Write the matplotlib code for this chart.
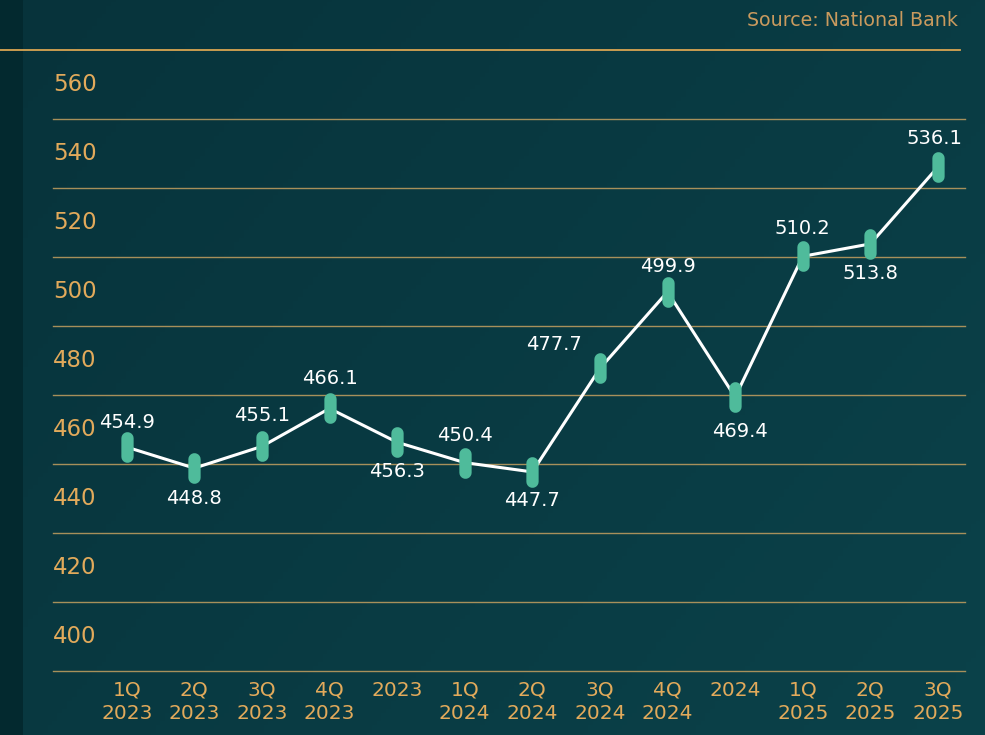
import numpy as np
import matplotlib.pyplot as plt
from matplotlib.path import Path
from matplotlib.patches import FancyBboxPatch
from matplotlib.colors import LinearSegmentedColormap

# data
quarters = ['1Q\n2023', '2Q\n2023', '3Q\n2023', '4Q\n2023', '2023\n',
            '1Q\n2024', '2Q\n2024', '3Q\n2024', '4Q\n2024', '2024\n',
            '1Q\n2025', '2Q\n2025', '3Q\n2025']
values = [454.9, 448.8, 455.1, 466.1, 456.3, 450.4, 447.7,
          477.7, 499.9, 469.4, 510.2, 513.8, 536.1]
y_labels = [400, 420, 440, 460, 480, 500, 520, 540, 560]
source = 'Source: National Bank'

# where each value label sits relative to its point (pixels)
label_offsets = [(0, 25), (0, -30), (0, 31), (0, 30), (0, -29), (0, 27), (0, -29),
                 (-46, 24), (0, 25), (5, -34), (0, 28), (0, -30), (-4, 28)]

gold = '#e2aa5b'
grid_gold = '#b99a5e'
teal = '#4fbb9b'

plt.rcParams['font.family'] = ['DejaVu Sans']

fig = plt.figure(figsize=(9.85, 7.35), dpi=100)
fig.patch.set_facecolor('#03292f')

# background panel with soft gradient
bg = fig.add_axes([0, 0, 1, 1])
bg.set_xlim(0, 985)
bg.set_ylim(735, 0)
bg.axis('off')
gx = np.linspace(0, 1, 200)
gy = np.linspace(0, 1, 200)
G = 0.6 * gx[None, :] + 0.4 * gy[:, None]
cmap = LinearSegmentedColormap.from_list('bgc', ['#07333b', '#0b424a'])
img = bg.imshow(G, extent=[23, 1005, 760, -25], cmap=cmap, aspect='auto', zorder=0)
panel = FancyBboxPatch((23, -25), 1000, 800, boxstyle='round,pad=0,rounding_size=26',
                       transform=bg.transData, facecolor='none', edgecolor='none')
bg.add_patch(panel)
img.set_clip_path(panel)

# top line + source
bg.plot([0, 960], [50, 50], color='#d9a552', lw=1.3, zorder=2)
bg.text(958, 20, source, color='#c99a5e', fontsize=13.7, ha='right', va='center')

# main axes
left_px, right_px, top_px, bot_px = 53, 965, 50, 671
ax = fig.add_axes([left_px / 985, 1 - bot_px / 735, (right_px - left_px) / 985, (bot_px - top_px) / 735])
ax.set_facecolor('none')
x = np.arange(len(values))
ax.set_xlim(-1.09, len(values) - 1 + 0.4)
ax.set_ylim(390, 570)
for s in ax.spines.values():
    s.set_visible(False)

for g in range(390, 560, 20):
    ax.axhline(g, color=grid_gold, lw=1.0, alpha=0.9, zorder=1, clip_on=False)

ax.set_yticks([])
for v in y_labels:
    ax.text(0.0, v, str(v), transform=ax.get_yaxis_transform(), color=gold,
            fontsize=16.5, ha='left', va='center')

ax.set_xticks(x)
ax.set_xticklabels(quarters, color=gold, fontsize=14.5, linespacing=1.3)
ax.tick_params(axis='x', length=0, pad=7)

# pill shaped marker
t = np.linspace(0, np.pi, 12)
top = np.column_stack([0.2 * np.cos(t), 0.3 + 0.2 * np.sin(t)])
bottom = np.column_stack([-0.2 * np.cos(t), -0.3 - 0.2 * np.sin(t)])
verts = np.vstack([top, bottom, top[:1]])
pill = Path(verts, closed=True)

ax.plot(x, values, color='white', lw=2.2, zorder=3)
ax.plot(x, values, linestyle='none', marker=pill, markersize=22,
        markerfacecolor=teal, markeredgecolor='none', zorder=4)

for xi, v, off in zip(x, values, label_offsets):
    ax.annotate(f'{v:.1f}', (xi, v), xytext=off, textcoords='offset pixels',
                color='white', fontsize=14, ha='center', va='center', zorder=5)

fig.savefig('out.png', dpi=100)
